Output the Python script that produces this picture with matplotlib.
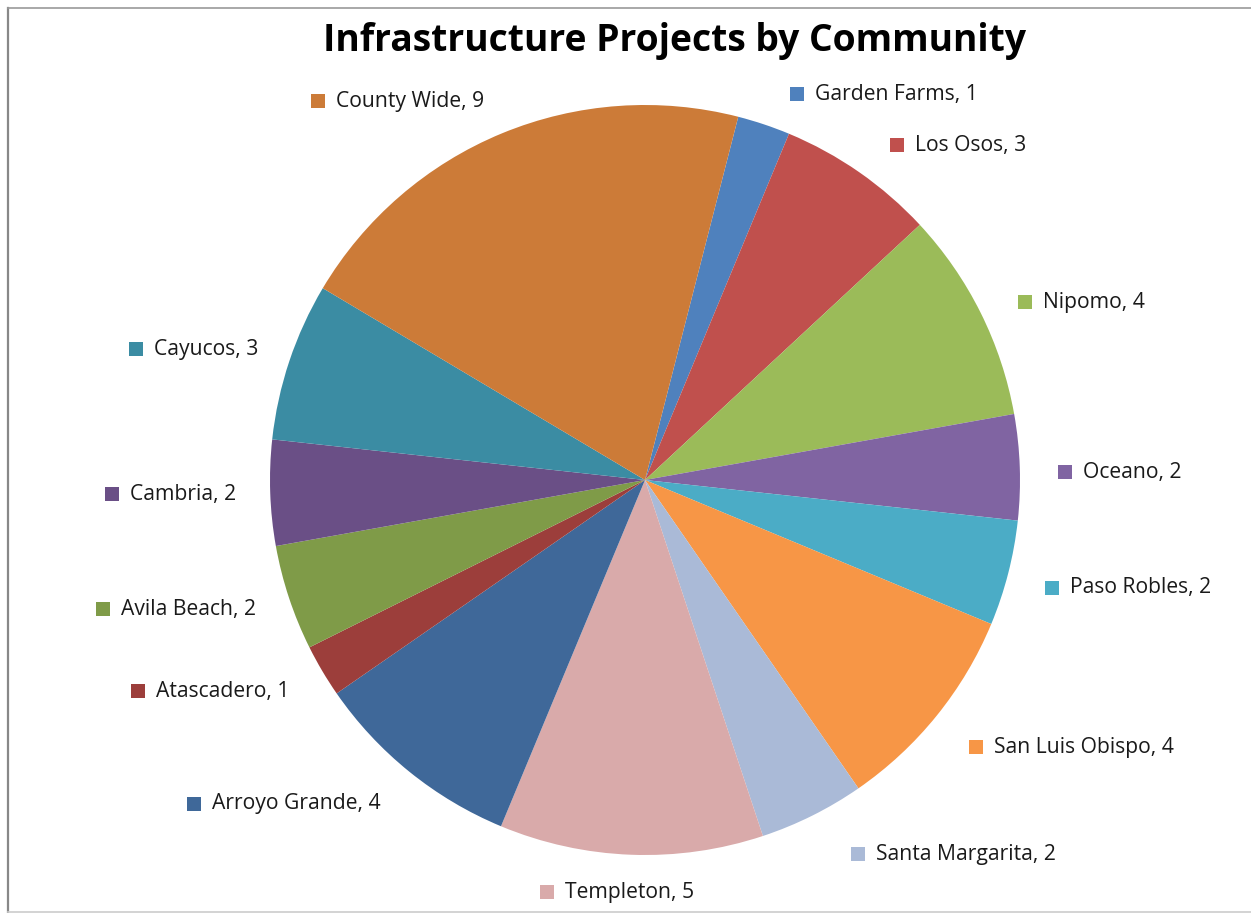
import matplotlib
matplotlib.use("Agg")
import matplotlib.pyplot as plt
import numpy as np
from matplotlib.offsetbox import AnnotationBbox, HPacker, DrawingArea, TextArea
from matplotlib.patches import Rectangle
from matplotlib.lines import Line2D

plt.rcParams['font.family'] = ['Open Sans', 'DejaVu Sans']

# data, clockwise from the top-right
communities = ['Garden Farms', 'Los Osos', 'Nipomo', 'Oceano', 'Paso Robles',
               'San Luis Obispo', 'Santa Margarita', 'Templeton', 'Arroyo Grande',
               'Atascadero', 'Avila Beach', 'Cambria', 'Cayucos', 'County Wide']
projects = [1, 3, 4, 2, 2, 4, 2, 5, 4, 1, 2, 2, 3, 9]

colors = ['#4F81BD', '#C0504D', '#9BBB59', '#8064A2', '#4BACC6', '#F79646',
          '#AABAD7', '#D9AAAA', '#3F6899', '#9C3E3B', '#7F9B48', '#6A4F86',
          '#3B8CA3', '#CC7B38']

# label centres in pixels (x, y from top), as placed in the original
label_pos = [(884, 92), (958, 143), (1081, 300), (1120, 470), (1128, 586),
             (1071, 745), (953, 852), (617, 890), (284, 802), (210, 689),
             (176, 607), (171, 492), (194, 347), (398, 99)]

W, H = 1251, 913
fig = plt.figure(figsize=(W / 100, H / 100), dpi=100)
ax = fig.add_axes([0, 0, 1, 1])

cx, cy, r = 645, H - 480, 375
ax.pie(projects, colors=colors, startangle=90 - 14.4, counterclock=False,
       center=(cx, cy), radius=r, frame=True,
       wedgeprops=dict(linewidth=0))
ax.set_xlim(0, W)
ax.set_ylim(0, H)
ax.set_aspect('equal')
ax.axis('off')

px = 0.72  # points per pixel at dpi 100
for name, val, col, (lx, ly) in zip(communities, projects, colors, label_pos):
    da = DrawingArea(14 * px, 14 * px, 0, 0)
    da.add_artist(Rectangle((0, 0), 14 * px, 14 * px, facecolor=col, edgecolor='none'))
    ta = TextArea(f"{name}, {val}", textprops=dict(fontsize=15.2, color='#1a1a1a'))
    box = HPacker(children=[da, ta], align='center', pad=0, sep=11 * px)
    ab = AnnotationBbox(box, (lx, H - ly - 2), xycoords='data', frameon=False,
                        box_alignment=(0.5, 0.5), pad=0)
    ax.add_artist(ab)

fig.text(675 / W, 1 - 41 / H, 'Infrastructure Projects by Community',
         ha='center', va='center', fontsize=26.8, fontweight='bold', color='black')

# chart area border
fig.add_artist(Line2D([7.5 / W, 7.5 / W], [0, 1 - 8 / H], color='#888888', lw=1.6))
fig.add_artist(Line2D([7.5 / W, 1], [1 - 8 / H, 1 - 8 / H], color='#999999', lw=1.2))
fig.add_artist(Line2D([7.5 / W, 1], [1.2 / H, 1.2 / H], color='#cccccc', lw=1.2))

fig.savefig('out.png', dpi=100)
